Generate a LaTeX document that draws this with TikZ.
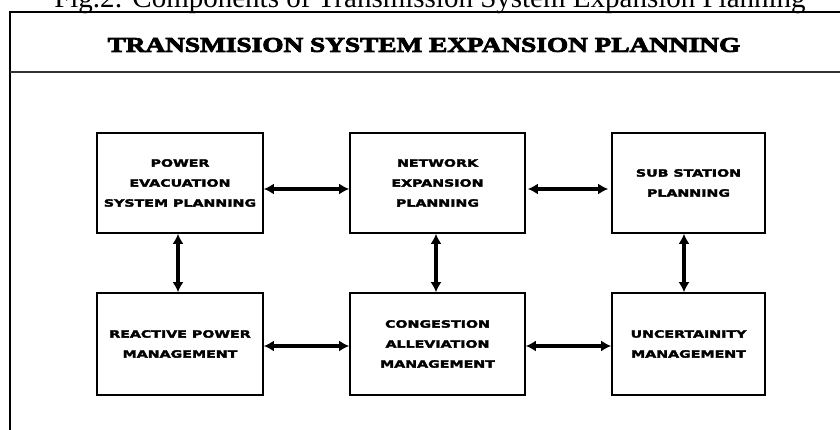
\documentclass[tikz,border=0pt]{standalone}
\usepackage{fontspec}
\setmainfont{Liberation Serif}
\newfontfamily\boxfont{DejaVu Sans}[UprightFont={* Bold}, FakeStretch=1.42, FakeBold=3]
\newfontfamily\titlefont{Liberation Serif}[UprightFont={* Bold}, FakeStretch=1.3, FakeBold=4]
\usetikzlibrary{arrows.meta}
\tikzset{
  compbox/.style={draw, line width=1.6pt, inner sep=0pt, align=center,
    font=\boxfont\fontsize{10}{20}\selectfont},
  biarrow/.style={line width=3.2pt, {Latex[length=10pt,width=11pt]}-{Latex[length=10pt,width=11pt]}},
  frameline/.style={line width=1.4pt}
}
\begin{document}
\begin{tikzpicture}[x=1pt,y=1pt]
\clip (0,0) rectangle (840,430);
\fill[white] (0,0) rectangle (840,430);
% caption
\node[anchor=base, inner sep=0pt, font=\fontsize{29}{30}\selectfont] (cap) at (430,422)
  {Fig.2: Components of Transmission System Expansion Planning};
% outer frame
\coordinate (ftr) at (850,418);
\coordinate (ftl) at (10,418);
\coordinate (fbl) at (10,-10);
\draw[frameline] (ftr) -- (ftl) -- (fbl);
\coordinate (dl) at (10,358);
\coordinate (dr) at (850,358);
\draw[line width=1.8pt, black!80] (dl) -- (dr);
% title
\node[inner sep=0pt, font=\titlefont\fontsize{21}{24}\selectfont] (title) at (424,385)
  {TRANSMISION SYSTEM EXPANSION PLANNING};
% boxes
\node[compbox, minimum width=166pt, minimum height=100pt] (b1) at (180,247)
  {POWER\\EVACUATION\\SYSTEM PLANNING};
\node[compbox, minimum width=175pt, minimum height=100pt] (b2) at (437.5,247)
  {NETWORK\\EXPANSION\\PLANNING};
\node[compbox, minimum width=153pt, minimum height=100pt] (b3) at (688.5,247)
  {SUB STATION\\PLANNING};
\node[compbox, minimum width=166pt, minimum height=102pt] (b4) at (180,86)
  {REACTIVE POWER\\MANAGEMENT};
\node[compbox, minimum width=175pt, minimum height=102pt] (b5) at (437.5,86)
  {CONGESTION\\ALLEVIATION\\MANAGEMENT};
\node[compbox, minimum width=153pt, minimum height=102pt] (b6) at (688.5,86)
  {UNCERTAINITY\\MANAGEMENT};
% horizontal arrows
\draw[biarrow] ([yshift=-6pt]b1.east) -- ([yshift=-6pt]b2.west);
\draw[biarrow, shorten <=2pt, shorten >=3pt] ([yshift=-6pt]b2.east) -- ([yshift=-6pt]b3.west);
\draw[biarrow] ([yshift=-2pt]b4.east) -- ([yshift=-2pt]b5.west);
\draw[biarrow] ([yshift=-2pt]b5.east) -- ([yshift=-2pt]b6.west);
% vertical arrows
\draw[biarrow, line width=3.6pt] ([xshift=-2pt]b1.south) -- ([xshift=-2pt]b4.north);
\draw[biarrow, line width=3.6pt] ([xshift=-1.5pt]b2.south) -- ([xshift=-1.5pt]b5.north);
\draw[biarrow, line width=3.6pt] ([xshift=-4.5pt]b3.south) -- ([xshift=-4.5pt]b6.north);
\end{tikzpicture}
\end{document}
